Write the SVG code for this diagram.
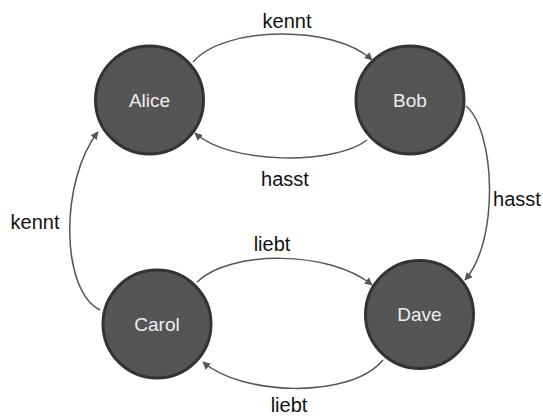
<svg xmlns="http://www.w3.org/2000/svg" width="543" height="416" viewBox="0 0 543 416">
<style>
.node{fill:#555;stroke:#333;stroke-width:3}
.nl{font-family:"Liberation Sans",Arial,sans-serif;font-size:19px;fill:#eee;text-anchor:middle;dominant-baseline:central}
.el{font-family:"Liberation Sans",Arial,sans-serif;font-size:20px;fill:#111;text-anchor:middle;dominant-baseline:central}
.edge{fill:none;stroke:#555;stroke-width:1.5;marker-end:url(#arr)}
</style>
<defs>
<marker id="arr" viewBox="0 0 10 10" refX="9" refY="5" markerWidth="8" markerHeight="8" markerUnits="userSpaceOnUse" orient="auto">
<path d="M0,0 L10,5 L0,10 z" fill="#555"/>
</marker>
</defs>
<rect width="543" height="416" fill="#fff"/>
<g id="connectors">
<path class="edge" d="M193,62 C225,25 335,25 372,60"/>
<path class="edge" d="M367,140 C335,165 230,165 195,133"/>
<path class="edge" d="M466,106 C495,130 500,240 465,280"/>
<path class="edge" d="M100,310 C60,290 60,180 98,132"/>
<path class="edge" d="M197,282 C230,250 330,250 372,285"/>
<path class="edge" d="M383,360 C350,400 240,395 203,362"/>
<text class="el" x="287" y="21">kennt</text>
<text class="el" x="285" y="179">hasst</text>
<text class="el" x="517" y="199">hasst</text>
<text class="el" x="35" y="222">kennt</text>
<text class="el" x="272" y="244">liebt</text>
<text class="el" x="289" y="405">liebt</text>
</g>
<g id="alice"><circle class="node" cx="149.5" cy="100" r="54"/><text class="nl" x="149.5" y="100">Alice</text></g>
<g id="bob"><circle class="node" cx="410" cy="100" r="54"/><text class="nl" x="410" y="100">Bob</text></g>
<g id="carol"><circle class="node" cx="157" cy="324" r="54"/><text class="nl" x="157" y="324">Carol</text></g>
<g id="dave"><circle class="node" cx="419.5" cy="314.5" r="54"/><text class="nl" x="419.5" y="314.5">Dave</text></g>
</svg>
